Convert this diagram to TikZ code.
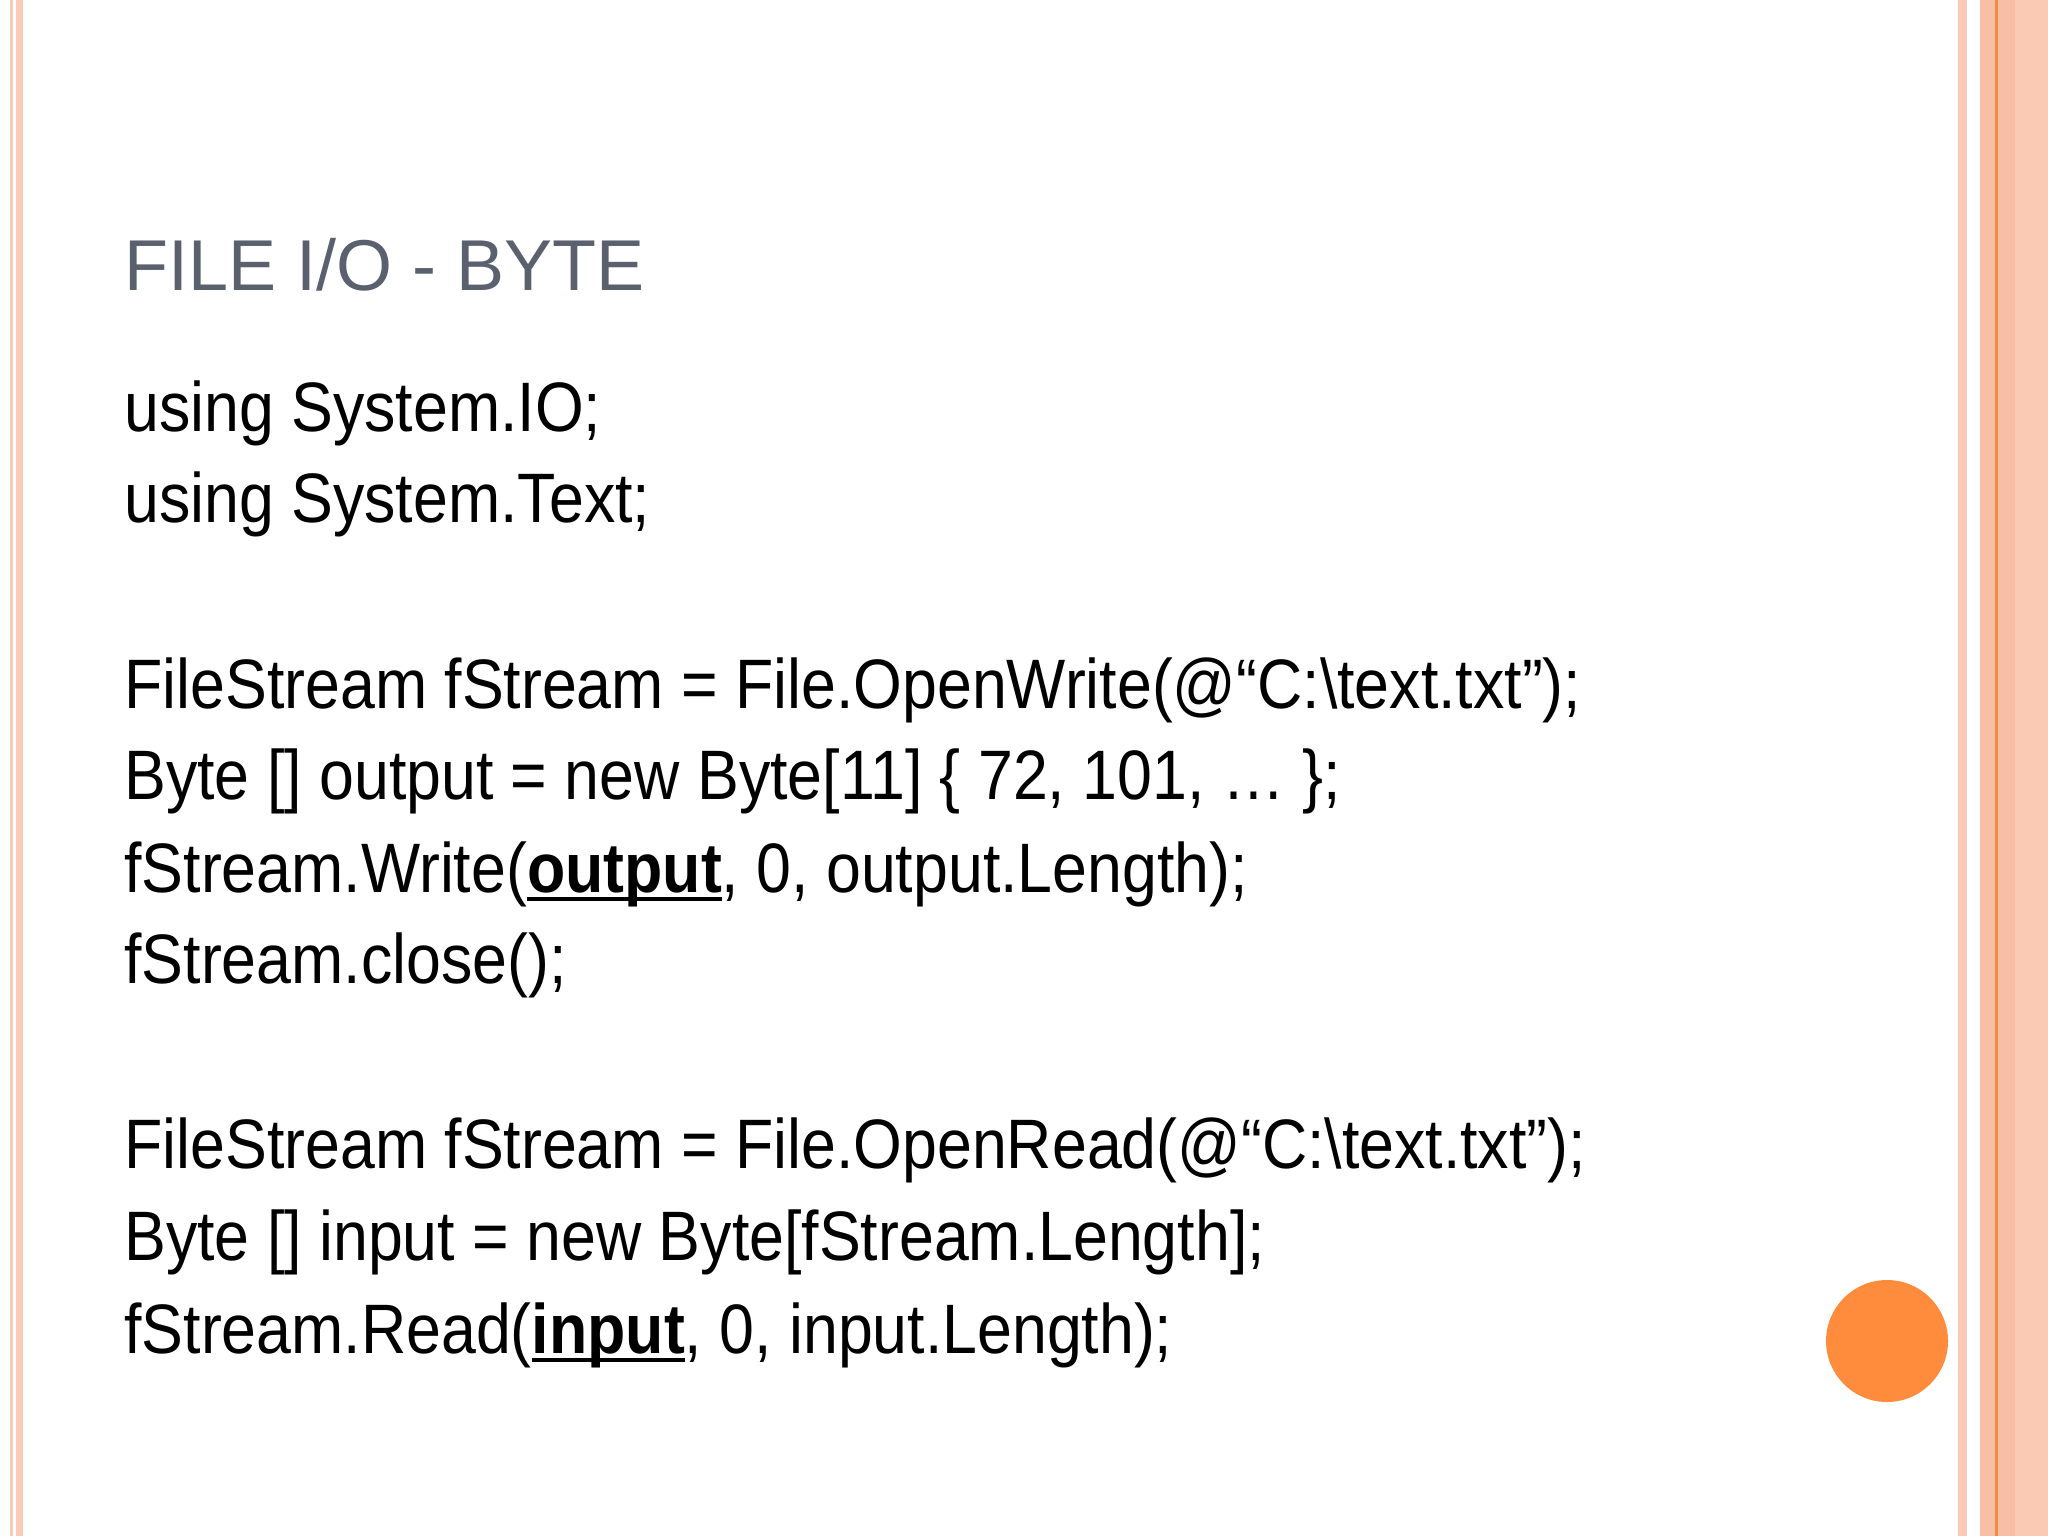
\documentclass[tikz,border=0pt]{standalone}
\usepackage{fontspec}
\setmainfont[FakeStretch=0.895]{Liberation Sans}
\newfontfamily\ttlfont{Liberation Sans}
\definecolor{salm}{HTML}{FBCAB5}
\definecolor{salmd}{HTML}{F9BFA5}
\definecolor{orl}{HTML}{F38A45}
\definecolor{ttl}{HTML}{5A606E}
\definecolor{dot}{HTML}{FF8C3C}
\newlength{\ulw}
\newcommand{\ul}[1]{\settowidth{\ulw}{\textbf{#1}}\rlap{\textbf{#1}}\rule[-4.5pt]{\ulw}{1.8pt}}
\begin{document}
\begin{tikzpicture}[x=0.5pt,y=-0.5pt,
  code/.style={anchor=base west,inner sep=0pt,font=\fontsize{35}{42}\selectfont}]
\useasboundingbox (0,0) rectangle (2048,1536);
\fill[white] (0,0) rectangle (2048,1536);
\fill[salm] (10,0) rectangle (13,1536);
\fill[salm] (16,0) rectangle (23,1536);
\fill[salm] (1958,0) rectangle (1967,1536);
\fill[salmd] (1980,0) rectangle (2048,1536);
\fill[salm] (2015,0) rectangle (2048,1536);
\fill[orl] (1995,0) rectangle (1998,1536);
\node[code,text=ttl,font=\ttlfont\fontsize{36}{42}\selectfont] (title) at (124,290) {FILE I/O - BYTE};
\node[code] (l1) at (124,431) {using System.IO;};
\node[code] (l2) at (124,522) {using System.Text;};
\node[code] (l3) at (124,708) {FileStream fStream = File.OpenWrite(@“C:\textbackslash text.txt”);};
\node[code] (l4) at (124,799) {Byte [] output = new Byte[11] \{ 72, 101, … \};};
\node[code] (l5) at (124,892) {fStream.Write(\ul{output}, 0, output.Length);};
\node[code] (l6) at (124,983) {fStream.close();};
\node[code] (l7) at (124,1168) {FileStream fStream = File.OpenRead(@“C:\textbackslash text.txt”);};
\node[code] (l8) at (124,1260) {Byte [] input = new Byte[fStream.Length];};
\node[code] (l9) at (124,1353) {fStream.Read(\ul{input}, 0, input.Length);};
\fill[dot] (1887,1341) circle (61) node (dotc) {};
\end{tikzpicture}
\end{document}
